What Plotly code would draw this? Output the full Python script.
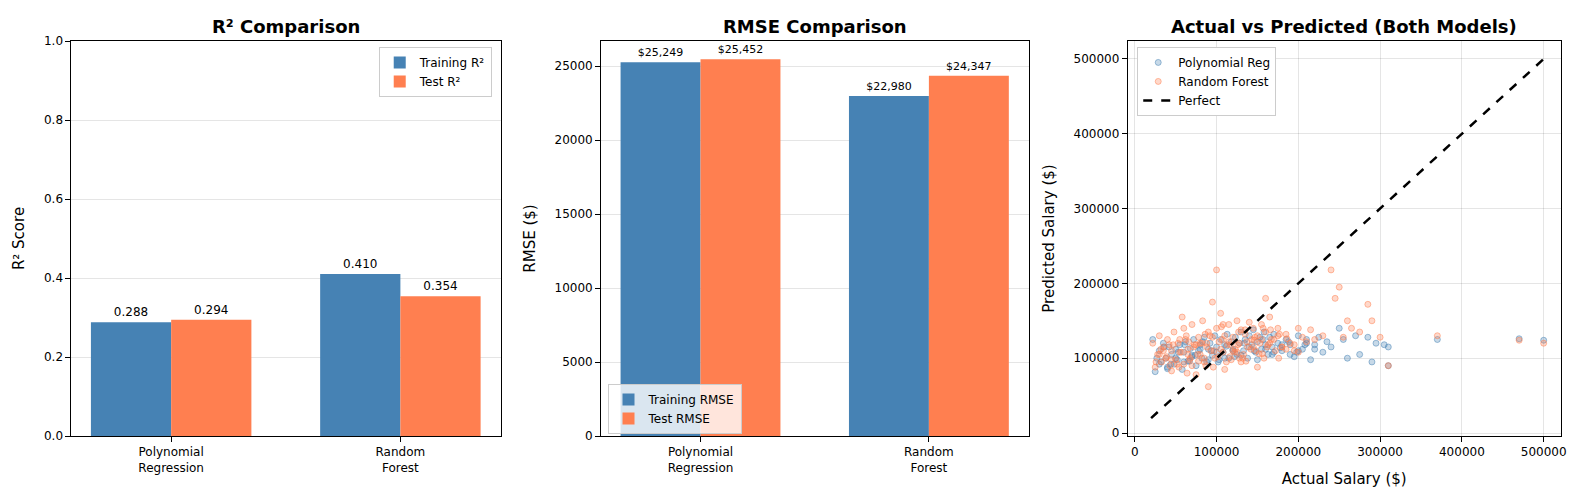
import plotly.graph_objects as go

# Bar chart data
models = ["Polynomial<br>Regression", "Random<br>Forest"]
train_r2 = [0.288, 0.410]
test_r2 = [0.294, 0.354]
train_rmse = [25249, 22980]
test_rmse = [25452, 24347]

# Actual vs predicted (approximate)
poly_actual = [22000, 25000, 30000, 32000, 35000, 38000, 40000, 42000, 45000, 48000,
               50000, 52000, 55000, 58000, 60000, 62000, 65000, 68000, 70000, 72000,
               75000, 78000, 80000, 82000, 85000, 88000, 90000, 92000, 95000, 98000,
               100000, 103000, 105000, 108000, 110000, 113000, 115000, 118000, 120000, 123000,
               125000, 128000, 130000, 133000, 135000, 138000, 140000, 143000, 145000, 148000,
               150000, 153000, 155000, 158000, 160000, 163000, 165000, 168000, 170000, 175000,
               180000, 185000, 190000, 195000, 200000, 205000, 210000, 215000, 220000, 225000,
               230000, 235000, 240000, 250000, 255000, 260000, 270000, 275000, 285000, 290000,
               295000, 305000, 310000, 310000, 370000, 470000, 500000,
               30000, 40000, 50000, 60000, 70000, 80000, 90000, 100000, 110000, 120000,
               130000, 140000, 150000, 160000, 170000, 180000, 190000, 200000, 210000, 220000,
               27000, 36000, 44000, 53000, 61000, 67000, 74000, 83000, 94000, 102000,
               112000, 122000, 134000, 146000, 157000, 168000, 178000, 188000, 198000, 208000]
poly_pred = [125000, 82000, 110000, 95000, 120000, 100000, 88000, 115000, 105000, 92000,
             112000, 98000, 118000, 85000, 108000, 122000, 96000, 113000, 102000, 125000,
             90000, 110000, 118000, 100000, 128000, 95000, 112000, 120000, 104000, 130000,
             115000, 98000, 125000, 108000, 118000, 132000, 100000, 122000, 112000, 128000,
             105000, 120000, 135000, 110000, 125000, 100000, 130000, 118000, 138000, 108000,
             122000, 128000, 112000, 135000, 118000, 105000, 128000, 115000, 132000, 120000,
             110000, 125000, 118000, 102000, 130000, 112000, 125000, 98000, 118000, 128000,
             108000, 122000, 115000, 140000, 125000, 100000, 130000, 105000, 128000, 95000,
             120000, 118000, 115000, 90000, 125000, 126000, 124000,
             92000, 86000, 100000, 95000, 104000, 112000, 98000, 108000, 100000, 110000,
             104000, 115000, 98000, 112000, 108000, 118000, 105000, 110000, 120000, 112000,
             100000, 115000, 92000, 108000, 118000, 96000, 104000, 122000, 110000, 95000,
             116000, 102000, 120000, 110000, 125000, 105000, 114000, 122000, 108000, 118000]
rf_actual = [22000, 25000, 28000, 30000, 33000, 35000, 38000, 40000, 43000, 45000,
             48000, 50000, 53000, 55000, 58000, 60000, 63000, 65000, 68000, 70000,
             73000, 75000, 78000, 80000, 83000, 85000, 88000, 90000, 93000, 95000,
             98000, 100000, 103000, 105000, 108000, 110000, 113000, 115000, 118000, 120000,
             123000, 125000, 128000, 130000, 133000, 135000, 138000, 140000, 143000, 145000,
             148000, 150000, 153000, 155000, 158000, 160000, 163000, 165000, 170000, 175000,
             180000, 185000, 190000, 195000, 200000, 205000, 210000, 215000, 220000, 230000,
             240000, 245000, 250000, 255000, 260000, 265000, 275000, 285000, 290000, 300000,
             310000, 370000, 470000, 500000,
             35000, 45000, 55000, 65000, 75000, 85000, 95000, 105000, 115000, 125000,
             135000, 145000, 155000, 165000, 175000, 185000, 195000, 45000, 70000, 90000,
             100000, 110000, 130000, 150000, 160000, 180000, 200000, 60000, 80000, 120000,
             26000, 32000, 39000, 47000, 52000, 57000, 62000, 67000, 72000, 77000,
             82000, 87000, 92000, 97000, 102000, 107000, 112000, 117000, 122000, 127000,
             132000, 137000, 142000, 147000, 152000, 157000, 162000, 167000, 172000, 177000,
             30000, 42000, 54000, 66000, 78000, 86000, 96000, 106000, 116000, 126000,
             136000, 146000, 156000, 166000, 176000, 186000, 64000, 88000, 108000, 128000]
rf_pred = [120000, 88000, 105000, 130000, 95000, 115000, 100000, 125000, 90000, 110000,
           135000, 98000, 120000, 108000, 155000, 92000, 130000, 112000, 100000, 145000,
           118000, 78000, 128000, 105000, 150000, 95000, 120000, 135000, 110000, 175000,
           100000, 140000, 122000, 160000, 108000, 130000, 118000, 145000, 98000, 128000,
           112000, 150000, 120000, 138000, 105000, 132000, 115000, 148000, 125000, 140000,
           110000, 130000, 120000, 145000, 100000, 135000, 118000, 155000, 125000, 140000,
           115000, 132000, 120000, 110000, 140000, 128000, 122000, 138000, 125000, 130000,
           218000, 180000, 195000, 128000, 150000, 140000, 135000, 172000, 150000, 128000,
           90000, 130000, 124000, 120000,
           110000, 98000, 125000, 105000, 118000, 100000, 128000, 112000, 122000, 108000,
           138000, 115000, 125000, 120000, 130000, 112000, 118000, 83000, 90000, 62000,
           218000, 85000, 95000, 88000, 180000, 115000, 108000, 140000, 120000, 110000,
           95000, 112000, 102000, 118000, 92000, 108000, 125000, 98000, 115000, 105000,
           120000, 90000, 130000, 110000, 102000, 125000, 95000, 118000, 108000, 135000,
           100000, 122000, 112000, 128000, 106000, 140000, 115000, 125000, 110000, 132000,
           105000, 118000, 88000, 122000, 96000, 132000, 88000, 142000, 102000, 118000,
           96000, 124000, 106000, 138000, 100000, 126000, 80000, 115000, 145000, 100000]
perfect = [20000, 500000]

blue = "#4682B4"
orange = "#FF7F50"
font = "DejaVu Sans"

fig = go.Figure()
xpos = [0, 1]

# R² panel
fig.add_trace(go.Bar(x=xpos, y=train_r2, width=0.35, offset=-0.35, marker_color=blue,
                     marker_line_width=0,
                     name="Training R²", text=[f"{v:.3f}" for v in train_r2],
                     textposition="outside", textfont=dict(size=12, color="black"),
                     cliponaxis=False, xaxis="x", yaxis="y", legend="legend"))
fig.add_trace(go.Bar(x=xpos, y=test_r2, width=0.35, offset=0, marker_color=orange,
                     marker_line_width=0,
                     name="Test R²", text=[f"{v:.3f}" for v in test_r2],
                     textposition="outside", textfont=dict(size=12, color="black"),
                     cliponaxis=False, xaxis="x", yaxis="y", legend="legend"))

# RMSE panel
fig.add_trace(go.Bar(x=xpos, y=train_rmse, width=0.35, offset=-0.35, marker_color=blue,
                     marker_line_width=0,
                     name="Training RMSE", text=[f"${v:,}" for v in train_rmse],
                     textposition="outside", textfont=dict(size=11, color="black"),
                     cliponaxis=False, xaxis="x2", yaxis="y2", legend="legend2"))
fig.add_trace(go.Bar(x=xpos, y=test_rmse, width=0.35, offset=0, marker_color=orange,
                     marker_line_width=0,
                     name="Test RMSE", text=[f"${v:,}" for v in test_rmse],
                     textposition="outside", textfont=dict(size=11, color="black"),
                     cliponaxis=False, xaxis="x2", yaxis="y2", legend="legend2"))

# Scatter panel
fig.add_trace(go.Scatter(x=poly_actual, y=poly_pred, mode="markers", name="Polynomial Reg",
                         marker=dict(color="rgba(70,130,180,0.3)", size=6,
                                     line=dict(color="rgba(70,130,180,0.5)", width=1)),
                         xaxis="x3", yaxis="y3", legend="legend3"))
fig.add_trace(go.Scatter(x=rf_actual, y=rf_pred, mode="markers", name="Random Forest",
                         marker=dict(color="rgba(255,127,80,0.3)", size=6,
                                     line=dict(color="rgba(255,127,80,0.5)", width=1)),
                         xaxis="x3", yaxis="y3", legend="legend3"))
fig.add_trace(go.Scatter(x=perfect, y=perfect, mode="lines", name="Perfect",
                         line=dict(color="black", width=2.5, dash="dash"),
                         xaxis="x3", yaxis="y3", legend="legend3"))

axis_style = dict(showline=True, linecolor="black", mirror=True, ticks="outside",
                  tickcolor="black", tickfont=dict(size=12, color="black"), zeroline=False,
                  automargin=False)
grid = dict(showgrid=True, gridcolor="rgba(0,0,0,0.1)")
ydom = [0, 1]

fig.update_layout(
    width=1586, height=490, paper_bgcolor="white", plot_bgcolor="white",
    margin=dict(l=0, r=0, t=33, b=62, autoexpand=False),
    font=dict(family=font, color="black"),
    xaxis=dict(domain=[0.040, 0.311], range=[-0.435, 1.44], tickvals=xpos, ticktext=models,
               showgrid=False, **axis_style),
    yaxis=dict(domain=ydom, range=[0, 1], dtick=0.2, tickformat=".1f",
               title=dict(text="R² Score", font=dict(size=15)), **grid, **axis_style),
    xaxis2=dict(domain=[0.374, 0.644], range=[-0.435, 1.44], tickvals=xpos, ticktext=models,
                showgrid=False, anchor="y2", **axis_style),
    yaxis2=dict(domain=ydom, range=[0, 26690], dtick=5000, tickformat="d", anchor="x2",
                title=dict(text="RMSE ($)", font=dict(size=15)), **grid, **axis_style),
    xaxis3=dict(domain=[0.706, 0.979], range=[-8600, 520800], dtick=100000, tickformat="d",
                anchor="y3",
                title=dict(text="Actual Salary ($)", font=dict(size=15)), **grid, **axis_style),
    yaxis3=dict(domain=ydom, range=[-4000, 524000], dtick=100000, tickformat="d", anchor="x3",
                title=dict(text="Predicted Salary ($)", font=dict(size=15)), **grid, **axis_style),
    legend=dict(x=0.305, y=0.985, xanchor="right", yanchor="top", bgcolor="white",
                bordercolor="#ccc", borderwidth=1, font=dict(size=12)),
    legend2=dict(x=0.378, y=0.005, xanchor="left", yanchor="bottom",
                 bgcolor="rgba(255,255,255,0.8)",
                 bordercolor="#ccc", borderwidth=1, font=dict(size=12)),
    legend3=dict(x=0.712, y=0.985, xanchor="left", yanchor="top", bgcolor="white",
                 bordercolor="#ccc", borderwidth=1, font=dict(size=12)),
    annotations=[
        dict(text="<b>R² Comparison</b>", x=0.1755, y=1.0, xref="paper", yref="paper",
             xanchor="center", yanchor="bottom", yshift=2, showarrow=False, font=dict(size=18)),
        dict(text="<b>RMSE Comparison</b>", x=0.509, y=1.0, xref="paper", yref="paper",
             xanchor="center", yanchor="bottom", yshift=2, showarrow=False, font=dict(size=18)),
        dict(text="<b>Actual vs Predicted (Both Models)</b>", x=0.8425, y=1.0, xref="paper",
             yref="paper", xanchor="center", yanchor="bottom", yshift=2, showarrow=False,
             font=dict(size=18)),
    ],
)

fig.write_html("out.html")
